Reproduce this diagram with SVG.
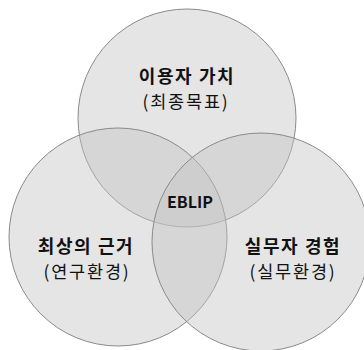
<svg xmlns="http://www.w3.org/2000/svg" width="364" height="350" viewBox="0 0 364 350">
<style>
.c{fill:#c4c4c4;fill-opacity:0.44;stroke:#8a8a8a;stroke-width:1}
.t{font-family:"Noto Sans CJK KR","Noto Sans",sans-serif;text-anchor:middle;fill:#111}
.b{font-weight:bold;font-size:18px;letter-spacing:1.6px}
.r{font-size:17.5px;letter-spacing:1.8px}
</style>
<rect width="364" height="350" fill="#fff"/>
<g id="top"><circle class="c" cx="187" cy="118" r="109"/></g>
<g id="left"><circle class="c" cx="118" cy="237" r="109"/></g>
<g id="right"><circle class="c" cx="261" cy="242" r="109"/></g>
<g id="connectors"></g>
<g id="label-top"><text class="t b" x="187" y="83">이용자 가치</text><text class="t r" x="186" y="108">(최종목표)</text></g>
<g id="label-left"><text class="t b" x="86" y="253">최상의 근거</text><text class="t r" x="87" y="278">(연구환경)</text></g>
<g id="label-right"><text class="t b" x="293" y="253">실무자 경험</text><text class="t r" x="293" y="278">(실무환경)</text></g>
<g id="center"><text class="t" x="190" y="208" style="font-weight:bold;font-size:16px">EBLIP</text></g>
</svg>
